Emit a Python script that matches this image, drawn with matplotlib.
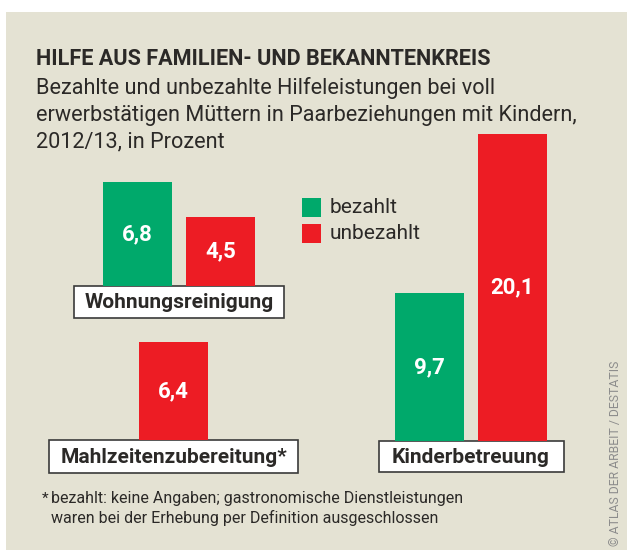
import matplotlib
matplotlib.use("Agg")
import matplotlib.pyplot as plt
from matplotlib.patches import Rectangle
import numpy as np

# --- data -------------------------------------------------------------
categories = ["Wohnungsreinigung", "Mahlzeitenzubereitung*", "Kinderbetreuung"]
bezahlt = [6.8, np.nan, 9.7]      # paid help (no data for meal preparation)
unbezahlt = [4.5, 6.4, 20.1]      # unpaid help
series_names = ["bezahlt", "unbezahlt"]

title = "HILFE AUS FAMILIEN- UND BEKANNTENKREIS"
subtitle = ["Bezahlte und unbezahlte Hilfeleistungen bei voll",
            "erwerbstätigen Müttern in Paarbeziehungen mit Kindern,",
            "2012/13, in Prozent"]
footnote = ["bezahlt: keine Angaben; gastronomische Dienstleistungen",
            "waren bei der Erhebung per Definition ausgeschlossen"]
source = "© ATLAS DER ARBEIT / DESTATIS"

# --- style ------------------------------------------------------------
W, H = 627, 550
BG = "#E4E2D3"
GREEN = "#00A96B"
RED = "#ED1C24"
INK = "#2B2927"
FONT = ["Roboto", "DejaVu Sans"]

SCALE = 15.27      # pixels per percentage point
SLOT = 83          # pixels between neighbouring bar centres
BAR_W = 69 / SLOT

fig = plt.figure(figsize=(W / 100, H / 100), dpi=100, facecolor="white")

# full-figure canvas in pixel coordinates (y down)
bg = fig.add_axes([0, 0, 1, 1])
bg.set_xlim(0, W)
bg.set_ylim(H, 0)
bg.axis("off")
bg.add_patch(Rectangle((6, 12), W - 6, H - 12, facecolor=BG, edgecolor="none"))

# titles
bg.text(36, 65, title, fontsize=15.6, fontweight="bold", family=FONT,
        color=INK, va="baseline", ha="left")
for i, line in enumerate(subtitle):
    bg.text(36, 94 + i * 26.5, line, fontsize=15.6, family=FONT, color=INK,
            va="baseline", ha="left")

# groups: (centre of first bar slot, baseline), box size
layout = [
    (137.5, 286, 210, 32),
    (90.5, 440, 249, 33),
    (429.5, 441, 185, 31),
]

series = [bezahlt, unbezahlt]
colors = [GREEN, RED]
AX_H = 330
for gi, (c0, base, bw, bh) in enumerate(layout):
    ax = fig.add_axes([(c0 - SLOT) / W, (H - base) / H, 3 * SLOT / W, AX_H / H])
    ax.set_xlim(-1, 2)
    ax.set_ylim(0, AX_H / SCALE)
    ax.axis("off")
    for si, vals in enumerate(series):
        v = vals[gi]
        if np.isnan(v):
            continue
        ax.bar(si, v, width=BAR_W, color=colors[si], clip_on=False)
        ax.text(si, v / 2, f"{v:.1f}".replace(".", ","), ha="center",
                va="center", color="white", fontsize=16, fontweight="bold",
                family=FONT)
    # category label box, centred on the group's bars
    present = [si for si in range(2) if not np.isnan(series[si][gi])]
    cx = c0 + SLOT * (present[0] + present[-1]) / 2
    bg.add_patch(Rectangle((cx - bw / 2, base), bw, bh, facecolor="white",
                           edgecolor="#3A3A3A", linewidth=1.2, zorder=5))
    bg.text(cx, base + bh / 2 + 1, categories[gi], ha="center", va="center",
            fontsize=15, fontweight="bold", family=FONT, color=INK, zorder=6)

# legend
for i, (name, col) in enumerate(zip(series_names, colors)):
    y = 198 + i * 26
    bg.add_patch(Rectangle((302, y), 19, 19, facecolor=col, edgecolor="none"))
    bg.text(330, y + 9.5, name, fontsize=15, family=FONT, color=INK,
            va="center", ha="left")

# footnote
bg.text(42, 503, "*", fontsize=11, family=FONT, color=INK, va="baseline")
for i, line in enumerate(footnote):
    bg.text(51, 503 + i * 20, line, fontsize=11.5, family=FONT, color=INK,
            va="baseline", ha="left")

# source, rotated along the right edge
bg.text(616, 546, source, rotation=90, fontsize=8.8, family=FONT,
        color="#8C8C8C", ha="center", va="bottom")

fig.savefig("out.png", dpi=100, facecolor="white")
